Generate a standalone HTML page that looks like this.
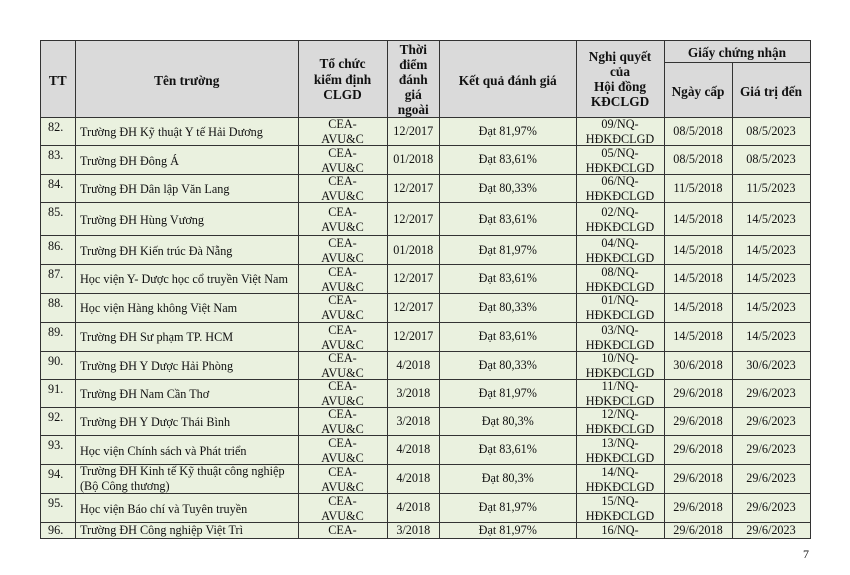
<!DOCTYPE html>
<html><head><meta charset="utf-8">
<style>
html,body{margin:0;padding:0;background:#fff;}
#p{position:relative;width:850px;height:575px;overflow:hidden;background:#fff;font-family:"Liberation Serif","Noto Serif CJK SC",serif;color:#111;}
.bg{position:absolute;}
.h{position:absolute;height:1px;background:#333;}
.v{position:absolute;width:1px;background:#333;}
.c{position:absolute;display:flex;align-items:center;justify-content:center;text-align:center;font-size:12.2px;line-height:14.5px;box-sizing:border-box;white-space:nowrap;}
.hd{font-weight:bold;font-size:13.3px;line-height:15px;}
.tt{justify-content:flex-start;align-items:flex-start;padding-left:8px;padding-top:3px;}
.nm{justify-content:flex-start;text-align:left;padding-left:4.5px;padding-top:2.5px;}
.c0{left:40px;width:35.5px}
.c1{left:75.5px;width:222.5px}
.c2{left:298px;width:89px}
.c3{left:387px;width:52.5px}
.c4{left:439.5px;width:136.5px}
.c5{left:576px;width:88px}
.c6{left:664px;width:68px}
.c7{left:732px;width:78px}
.c.c2:not(.hd):not(.last),.c.c5:not(.hd):not(.last){line-height:15px;padding-top:2px;}
.last{align-items:flex-start;padding-top:0.8px;overflow:hidden;}
</style></head><body>
<div id="p">
<!-- backgrounds -->
<div class="bg" style="left:40px;top:40px;width:770px;height:77px;background:#dadada"></div>
<div class="bg" style="left:40px;top:117px;width:770px;height:421px;background:#eaf1df"></div>

<!-- row 82 -->
<div class="c tt c0" style="top:117px;height:28.3px">82.</div>
<div class="c nm c1" style="top:117px;height:28.3px">Trường ĐH Kỹ thuật Y tế Hải Dương</div>
<div class="c c2" style="top:117px;height:28.3px">CEA-<br>AVU&amp;C</div>
<div class="c c3" style="top:117px;height:28.3px">12/2017</div>
<div class="c c4" style="top:117px;height:28.3px">Đạt 81,97%</div>
<div class="c c5" style="top:117px;height:28.3px">09/NQ-<br>HĐKĐCLGD</div>
<div class="c c6" style="top:117px;height:28.3px">08/5/2018</div>
<div class="c c7" style="top:117px;height:28.3px">08/5/2023</div>

<!-- row 83 -->
<div class="c tt c0" style="top:145.3px;height:28.7px">83.</div>
<div class="c nm c1" style="top:145.3px;height:28.7px">Trường ĐH Đông Á</div>
<div class="c c2" style="top:145.3px;height:28.7px">CEA-<br>AVU&amp;C</div>
<div class="c c3" style="top:145.3px;height:28.7px">01/2018</div>
<div class="c c4" style="top:145.3px;height:28.7px">Đạt 83,61%</div>
<div class="c c5" style="top:145.3px;height:28.7px">05/NQ-<br>HĐKĐCLGD</div>
<div class="c c6" style="top:145.3px;height:28.7px">08/5/2018</div>
<div class="c c7" style="top:145.3px;height:28.7px">08/5/2023</div>

<!-- row 84 -->
<div class="c tt c0" style="top:174px;height:28.3px">84.</div>
<div class="c nm c1" style="top:174px;height:28.3px">Trường ĐH Dân lập Văn Lang</div>
<div class="c c2" style="top:174px;height:28.3px">CEA-<br>AVU&amp;C</div>
<div class="c c3" style="top:174px;height:28.3px">12/2017</div>
<div class="c c4" style="top:174px;height:28.3px">Đạt 80,33%</div>
<div class="c c5" style="top:174px;height:28.3px">06/NQ-<br>HĐKĐCLGD</div>
<div class="c c6" style="top:174px;height:28.3px">11/5/2018</div>
<div class="c c7" style="top:174px;height:28.3px">11/5/2023</div>

<!-- row 85 -->
<div class="c tt c0" style="top:202.3px;height:33.2px">85.</div>
<div class="c nm c1" style="top:202.3px;height:33.2px">Trường ĐH Hùng Vương</div>
<div class="c c2" style="top:202.3px;height:33.2px">CEA-<br>AVU&amp;C</div>
<div class="c c3" style="top:202.3px;height:33.2px">12/2017</div>
<div class="c c4" style="top:202.3px;height:33.2px">Đạt 83,61%</div>
<div class="c c5" style="top:202.3px;height:33.2px">02/NQ-<br>HĐKĐCLGD</div>
<div class="c c6" style="top:202.3px;height:33.2px">14/5/2018</div>
<div class="c c7" style="top:202.3px;height:33.2px">14/5/2023</div>

<!-- row 86 -->
<div class="c tt c0" style="top:235.5px;height:28.8px">86.</div>
<div class="c nm c1" style="top:235.5px;height:28.8px">Trường ĐH Kiến trúc Đà Nẵng</div>
<div class="c c2" style="top:235.5px;height:28.8px">CEA-<br>AVU&amp;C</div>
<div class="c c3" style="top:235.5px;height:28.8px">01/2018</div>
<div class="c c4" style="top:235.5px;height:28.8px">Đạt 81,97%</div>
<div class="c c5" style="top:235.5px;height:28.8px">04/NQ-<br>HĐKĐCLGD</div>
<div class="c c6" style="top:235.5px;height:28.8px">14/5/2018</div>
<div class="c c7" style="top:235.5px;height:28.8px">14/5/2023</div>

<!-- row 87 -->
<div class="c tt c0" style="top:264.3px;height:28.4px">87.</div>
<div class="c nm c1" style="top:264.3px;height:28.4px">Học viện Y- Dược học cổ truyền Việt Nam</div>
<div class="c c2" style="top:264.3px;height:28.4px">CEA-<br>AVU&amp;C</div>
<div class="c c3" style="top:264.3px;height:28.4px">12/2017</div>
<div class="c c4" style="top:264.3px;height:28.4px">Đạt 83,61%</div>
<div class="c c5" style="top:264.3px;height:28.4px">08/NQ-<br>HĐKĐCLGD</div>
<div class="c c6" style="top:264.3px;height:28.4px">14/5/2018</div>
<div class="c c7" style="top:264.3px;height:28.4px">14/5/2023</div>

<!-- row 88 -->
<div class="c tt c0" style="top:292.7px;height:29.6px">88.</div>
<div class="c nm c1" style="top:292.7px;height:29.6px">Học viện Hàng không Việt Nam</div>
<div class="c c2" style="top:292.7px;height:29.6px">CEA-<br>AVU&amp;C</div>
<div class="c c3" style="top:292.7px;height:29.6px">12/2017</div>
<div class="c c4" style="top:292.7px;height:29.6px">Đạt 80,33%</div>
<div class="c c5" style="top:292.7px;height:29.6px">01/NQ-<br>HĐKĐCLGD</div>
<div class="c c6" style="top:292.7px;height:29.6px">14/5/2018</div>
<div class="c c7" style="top:292.7px;height:29.6px">14/5/2023</div>

<!-- row 89 -->
<div class="c tt c0" style="top:322.3px;height:28.4px">89.</div>
<div class="c nm c1" style="top:322.3px;height:28.4px">Trường ĐH Sư phạm TP. HCM</div>
<div class="c c2" style="top:322.3px;height:28.4px">CEA-<br>AVU&amp;C</div>
<div class="c c3" style="top:322.3px;height:28.4px">12/2017</div>
<div class="c c4" style="top:322.3px;height:28.4px">Đạt 83,61%</div>
<div class="c c5" style="top:322.3px;height:28.4px">03/NQ-<br>HĐKĐCLGD</div>
<div class="c c6" style="top:322.3px;height:28.4px">14/5/2018</div>
<div class="c c7" style="top:322.3px;height:28.4px">14/5/2023</div>

<!-- row 90 -->
<div class="c tt c0" style="top:350.7px;height:28.3px">90.</div>
<div class="c nm c1" style="top:350.7px;height:28.3px">Trường ĐH Y Dược Hải Phòng</div>
<div class="c c2" style="top:350.7px;height:28.3px">CEA-<br>AVU&amp;C</div>
<div class="c c3" style="top:350.7px;height:28.3px">4/2018</div>
<div class="c c4" style="top:350.7px;height:28.3px">Đạt 80,33%</div>
<div class="c c5" style="top:350.7px;height:28.3px">10/NQ-<br>HĐKĐCLGD</div>
<div class="c c6" style="top:350.7px;height:28.3px">30/6/2018</div>
<div class="c c7" style="top:350.7px;height:28.3px">30/6/2023</div>

<!-- row 91 -->
<div class="c tt c0" style="top:379px;height:28.3px">91.</div>
<div class="c nm c1" style="top:379px;height:28.3px">Trường ĐH Nam Cần Thơ</div>
<div class="c c2" style="top:379px;height:28.3px">CEA-<br>AVU&amp;C</div>
<div class="c c3" style="top:379px;height:28.3px">3/2018</div>
<div class="c c4" style="top:379px;height:28.3px">Đạt 81,97%</div>
<div class="c c5" style="top:379px;height:28.3px">11/NQ-<br>HĐKĐCLGD</div>
<div class="c c6" style="top:379px;height:28.3px">29/6/2018</div>
<div class="c c7" style="top:379px;height:28.3px">29/6/2023</div>

<!-- row 92 -->
<div class="c tt c0" style="top:407.3px;height:27.7px">92.</div>
<div class="c nm c1" style="top:407.3px;height:27.7px">Trường ĐH Y Dược Thái Bình</div>
<div class="c c2" style="top:407.3px;height:27.7px">CEA-<br>AVU&amp;C</div>
<div class="c c3" style="top:407.3px;height:27.7px">3/2018</div>
<div class="c c4" style="top:407.3px;height:27.7px">Đạt 80,3%</div>
<div class="c c5" style="top:407.3px;height:27.7px">12/NQ-<br>HĐKĐCLGD</div>
<div class="c c6" style="top:407.3px;height:27.7px">29/6/2018</div>
<div class="c c7" style="top:407.3px;height:27.7px">29/6/2023</div>

<!-- row 93 -->
<div class="c tt c0" style="top:435px;height:29px">93.</div>
<div class="c nm c1" style="top:435px;height:29px">Học viện Chính sách và Phát triển</div>
<div class="c c2" style="top:435px;height:29px">CEA-<br>AVU&amp;C</div>
<div class="c c3" style="top:435px;height:29px">4/2018</div>
<div class="c c4" style="top:435px;height:29px">Đạt 83,61%</div>
<div class="c c5" style="top:435px;height:29px">13/NQ-<br>HĐKĐCLGD</div>
<div class="c c6" style="top:435px;height:29px">29/6/2018</div>
<div class="c c7" style="top:435px;height:29px">29/6/2023</div>

<!-- row 94 -->
<div class="c tt c0" style="top:464px;height:29px">94.</div>
<div class="c nm c1" style="top:464px;height:29px;line-height:15px;padding-top:1.5px">Trường ĐH Kinh tế Kỹ thuật công nghiệp<br>(Bộ Công thương)</div>
<div class="c c2" style="top:464px;height:29px">CEA-<br>AVU&amp;C</div>
<div class="c c3" style="top:464px;height:29px">4/2018</div>
<div class="c c4" style="top:464px;height:29px">Đạt 80,3%</div>
<div class="c c5" style="top:464px;height:29px">14/NQ-<br>HĐKĐCLGD</div>
<div class="c c6" style="top:464px;height:29px">29/6/2018</div>
<div class="c c7" style="top:464px;height:29px">29/6/2023</div>

<!-- row 95 -->
<div class="c tt c0" style="top:493px;height:29px">95.</div>
<div class="c nm c1" style="top:493px;height:29px">Học viện Báo chí và Tuyên truyền</div>
<div class="c c2" style="top:493px;height:29px">CEA-<br>AVU&amp;C</div>
<div class="c c3" style="top:493px;height:29px">4/2018</div>
<div class="c c4" style="top:493px;height:29px">Đạt 81,97%</div>
<div class="c c5" style="top:493px;height:29px">15/NQ-<br>HĐKĐCLGD</div>
<div class="c c6" style="top:493px;height:29px">29/6/2018</div>
<div class="c c7" style="top:493px;height:29px">29/6/2023</div>

<!-- row 96 (cut) -->
<div class="c tt c0 last" style="top:522px;height:15.5px;padding-top:0.5px">96.</div>
<div class="c nm c1 last" style="top:522px;height:15.5px">Trường ĐH Công nghiệp Việt Trì</div>
<div class="c c2 last" style="top:522px;height:15.5px">CEA-</div>
<div class="c c3 last" style="top:522px;height:15.5px">3/2018</div>
<div class="c c4 last" style="top:522px;height:15.5px">Đạt 81,97%</div>
<div class="c c5 last" style="top:522px;height:15.5px">16/NQ-</div>
<div class="c c6 last" style="top:522px;height:15.5px">29/6/2018</div>
<div class="c c7 last" style="top:522px;height:15.5px">29/6/2023</div>

<!-- header -->
<div class="c hd c0" style="top:40px;height:77px;padding-top:3px">TT</div>
<div class="c hd c1" style="top:40px;height:77px;padding-top:3px">Tên trường</div>
<div class="c hd c2" style="top:40px;height:77px;line-height:15.5px;padding-top:2px">Tổ chức<br>kiểm định<br>CLGD</div>
<div class="c hd c3" style="top:40px;height:77px;padding-top:1px">Thời<br>điểm<br>đánh<br>giá<br>ngoài</div>
<div class="c hd c4" style="top:40px;height:77px;padding-top:3px">Kết quả đánh giá</div>
<div class="c hd c5" style="top:40px;height:77px;padding-top:1px">Nghị quyết<br>của<br>Hội đồng<br>KĐCLGD</div>
<div class="c hd" style="left:664px;width:146px;top:40px;height:22.5px;padding-top:2px">Giấy chứng nhận</div>
<div class="c hd c6" style="top:62.5px;height:54.5px;padding-top:3px">Ngày cấp</div>
<div class="c hd c7" style="top:62.5px;height:54.5px;padding-top:3px">Giá trị đến</div>

<!-- horizontal lines -->
<div class="h" style="left:40px;top:40px;width:771px"></div>
<div class="h" style="left:664px;top:62px;width:147px"></div>
<div class="h" style="left:40px;top:116.5px;width:771px"></div>
<div class="h" style="left:40px;top:145px;width:771px"></div>
<div class="h" style="left:40px;top:173.5px;width:771px"></div>
<div class="h" style="left:40px;top:202px;width:771px"></div>
<div class="h" style="left:40px;top:235px;width:771px"></div>
<div class="h" style="left:40px;top:264px;width:771px"></div>
<div class="h" style="left:40px;top:292.5px;width:771px"></div>
<div class="h" style="left:40px;top:322px;width:771px"></div>
<div class="h" style="left:40px;top:350.5px;width:771px"></div>
<div class="h" style="left:40px;top:378.5px;width:771px"></div>
<div class="h" style="left:40px;top:407px;width:771px"></div>
<div class="h" style="left:40px;top:434.5px;width:771px"></div>
<div class="h" style="left:40px;top:463.5px;width:771px"></div>
<div class="h" style="left:40px;top:492.5px;width:771px"></div>
<div class="h" style="left:40px;top:521.5px;width:771px"></div>
<div class="h" style="left:40px;top:537.5px;width:771px"></div>

<!-- vertical lines -->
<div class="v" style="left:40px;top:40px;height:498px"></div>
<div class="v" style="left:75px;top:40px;height:498px"></div>
<div class="v" style="left:297.5px;top:40px;height:498px"></div>
<div class="v" style="left:386.5px;top:40px;height:498px"></div>
<div class="v" style="left:439px;top:40px;height:498px"></div>
<div class="v" style="left:575.5px;top:40px;height:498px"></div>
<div class="v" style="left:663.5px;top:40px;height:498px"></div>
<div class="v" style="left:731.5px;top:62px;height:476px"></div>
<div class="v" style="left:810px;top:40px;height:498px"></div>

<!-- page number -->
<div style="position:absolute;left:803px;top:546px;font-size:12px;line-height:16px;">7</div>
</div>
</body></html>
